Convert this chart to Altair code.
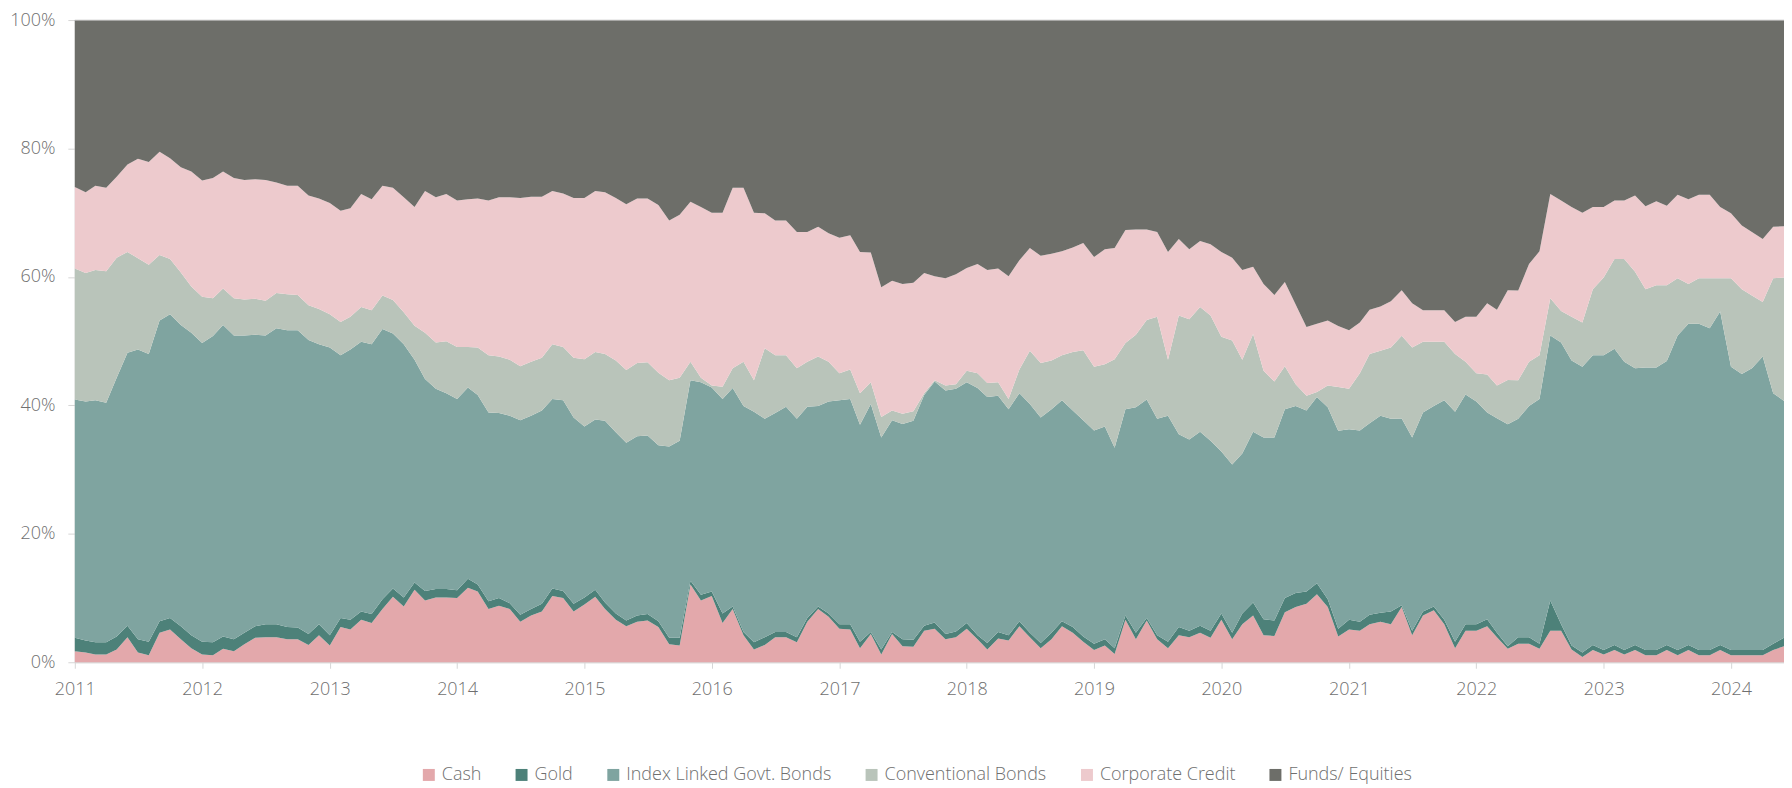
import altair as alt
import pandas as pd

months = pd.date_range("2011-01-01", "2024-06-01", freq="MS").strftime("%Y-%m-%dT00:00:00").tolist()
year_ticks = list(range(2011, 2025))

series_names = ["Cash", "Gold", "Index Linked Govt. Bonds", "Conventional Bonds",
                "Corporate Credit", "Funds/ Equities"]
series_colors = ["#E3A8AB", "#4D8179", "#7FA4A0", "#B9C4BA", "#EDCACD", "#6D6E69"]

cash = [1.7, 1.5, 1.2, 1.2, 2.0, 3.9, 1.5, 1.1, 4.6, 5.1,
        3.6, 2.2, 1.2, 1.1, 2.1, 1.7, 2.8, 3.8, 3.9, 3.9,
        3.6, 3.6, 2.7, 4.2, 2.6, 5.5, 5.1, 6.6, 6.1, 8.3,
        10.2, 8.7, 11.3, 9.6, 10.1, 10.1, 10.0, 11.6, 11.0, 8.3,
        8.8, 8.3, 6.3, 7.3, 7.9, 10.3, 10.0, 7.9, 9.0, 10.2,
        8.3, 6.6, 5.6, 6.3, 6.5, 5.5, 2.8, 2.6, 12.1, 9.6,
        10.3, 6.1, 8.3, 4.2, 2.0, 2.7, 3.9, 3.9, 3.1, 6.3,
        8.3, 7.1, 5.2, 5.1, 2.2, 4.4, 1.2, 4.4, 2.5, 2.4,
        4.9, 5.2, 3.6, 3.9, 5.2, 3.6, 2.0, 3.7, 3.4, 5.6,
        3.9, 2.2, 3.6, 5.6, 4.6, 3.2, 1.9, 2.6, 1.3, 6.6,
        3.6, 6.5, 3.6, 2.2, 4.2, 3.9, 4.6, 3.8, 6.6, 3.6,
        5.9, 7.3, 4.2, 4.1, 7.8, 8.6, 9.1, 10.6, 8.6, 4.0,
        5.1, 4.9, 5.9, 6.3, 5.9, 8.6, 4.2, 7.3, 8.1, 5.9,
        2.2, 4.9, 4.9, 5.6, 3.9, 2.1, 2.9, 2.9, 2.1, 4.9,
        4.9, 2.0, 0.8, 1.9, 1.2, 1.9, 1.2, 1.9, 1.1, 1.1,
        1.9, 1.1, 1.9, 1.1, 1.1, 1.9, 1.1, 1.1, 1.1, 1.1,
        1.9, 2.5]

gold = [2.1, 1.9, 1.9, 1.9, 2.0, 1.8, 2.1, 2.1, 1.8, 1.8,
        2.0, 2.0, 2.0, 2.0, 1.9, 1.9, 1.8, 1.8, 2.0, 2.0,
        1.9, 1.8, 1.7, 1.7, 1.6, 1.4, 1.5, 1.3, 1.4, 1.5,
        1.3, 1.4, 1.1, 1.5, 1.3, 1.3, 1.2, 1.4, 1.1, 1.2,
        1.2, 0.9, 1.1, 1.0, 1.2, 1.2, 1.1, 1.2, 1.1, 1.1,
        1.0, 1.0, 0.9, 1.0, 1.0, 0.9, 1.0, 1.2, 0.6, 0.9,
        0.7, 1.5, 0.4, 0.5, 1.1, 1.2, 0.8, 0.8, 0.8, 0.6,
        0.4, 0.5, 0.7, 0.8, 1.0, 0.3, 0.8, 0.3, 1.1, 1.1,
        0.8, 1.0, 0.8, 0.9, 0.9, 0.6, 1.0, 1.0, 0.8, 0.8,
        0.7, 0.8, 1.0, 0.8, 0.9, 0.8, 1.0, 1.0, 0.9, 0.7,
        1.0, 0.4, 0.6, 1.0, 1.3, 1.0, 1.1, 1.1, 1.0, 1.0,
        1.7, 2.0, 2.5, 2.4, 2.2, 2.2, 1.9, 1.7, 1.2, 1.2,
        1.5, 1.4, 1.5, 1.4, 2.0, 0.3, 0.7, 0.6, 0.6, 0.7,
        1.0, 1.0, 1.0, 1.1, 0.7, 0.4, 1.0, 1.0, 0.8, 4.7,
        1.0, 0.6, 0.7, 0.8, 0.7, 0.8, 0.7, 0.8, 0.8, 0.8,
        0.8, 0.8, 0.8, 0.8, 0.8, 0.8, 0.8, 0.8, 0.8, 0.8,
        1.0, 1.3]

index_linked = [37.1, 37.2, 37.7, 37.3, 40.3, 42.5, 45.1, 44.8, 46.8, 47.3,
                46.9, 47.1, 46.5, 47.7, 48.5, 47.3, 46.3, 45.4, 45.0, 46.1,
                46.2, 46.3, 45.8, 43.6, 44.8, 40.9, 42.1, 42.0, 42.0, 42.1,
                39.7, 39.4, 34.7, 33.0, 31.2, 30.5, 29.8, 29.8, 29.5, 29.4,
                28.8, 29.2, 30.3, 30.1, 30.1, 29.5, 29.7, 29.0, 26.6, 26.5,
                28.3, 28.2, 27.7, 27.9, 27.8, 27.4, 29.8, 30.7, 31.2, 33.1,
                31.8, 33.4, 34.0, 35.2, 35.9, 34.0, 34.1, 35.1, 34.0, 32.9,
                31.2, 33.0, 34.9, 35.1, 33.8, 35.5, 33.0, 33.0, 33.5, 34.1,
                35.9, 37.5, 37.9, 37.8, 37.5, 38.5, 38.3, 36.8, 35.2, 35.5,
                35.6, 35.1, 34.8, 34.4, 33.7, 33.7, 33.2, 33.1, 31.2, 32.1,
                35.1, 34.0, 33.7, 35.2, 30.0, 29.8, 30.2, 29.6, 25.2, 26.2,
                24.9, 26.6, 28.3, 28.5, 29.4, 29.1, 28.2, 29.0, 29.9, 30.8,
                29.7, 29.8, 29.8, 30.7, 30.0, 29.1, 30.1, 31.0, 31.2, 34.2,
                35.8, 35.8, 34.7, 32.2, 33.4, 34.6, 34.0, 36.0, 38.1, 41.3,
                43.9, 44.4, 44.5, 45.1, 45.9, 46.1, 44.9, 43.1, 44.0, 44.0,
                44.2, 49.0, 50.0, 50.8, 50.1, 51.9, 44.1, 43.0, 43.9, 45.7,
                39.0, 36.9]

conventional = [20.4, 20.0, 20.3, 20.5, 18.7, 15.7, 14.2, 13.9, 10.2, 8.6,
                8.2, 7.2, 7.2, 5.9, 5.7, 5.8, 5.6, 5.6, 5.4, 5.5,
                5.6, 5.5, 5.4, 5.5, 5.2, 5.2, 5.1, 5.4, 5.3, 5.2,
                5.2, 5.0, 5.3, 7.2, 7.2, 8.1, 8.1, 6.3, 7.4, 8.9,
                8.8, 8.7, 8.4, 8.4, 8.2, 8.5, 8.3, 9.3, 10.5, 10.5,
                10.4, 11.2, 11.3, 11.4, 11.4, 11.3, 10.3, 9.8, 2.9, 0.7,
                0.3, 1.9, 3.1, 6.9, 4.9, 11.0, 9.0, 8.0, 7.9, 7.0,
                7.7, 6.2, 4.2, 4.6, 4.9, 3.4, 3.2, 1.5, 1.6, 1.5,
                0.3, 0.2, 0.8, 0.7, 1.8, 2.3, 2.2, 2.1, 1.6, 3.7,
                8.3, 8.5, 7.6, 7.0, 9.1, 10.9, 9.9, 9.7, 13.8, 10.3,
                11.3, 12.4, 15.9, 8.7, 18.5, 18.7, 19.4, 19.5, 17.9, 19.3,
                14.6, 15.2, 10.4, 8.7, 6.7, 3.4, 2.3, 0.8, 3.4, 6.8,
                6.3, 8.9, 10.8, 10.1, 11.1, 12.9, 14.0, 11.0, 10.0, 9.1,
                9.0, 5.1, 4.4, 5.9, 5.1, 6.9, 6.0, 6.9, 6.8, 5.8,
                4.9, 6.8, 6.9, 10.3, 12.1, 14.0, 16.0, 15.0, 12.2, 12.8,
                11.8, 8.9, 6.2, 7.1, 7.8, 5.2, 13.8, 13.2, 11.3, 8.5,
                17.9, 19.2]

corporate = [12.7, 12.6, 13.1, 13.0, 12.6, 13.6, 15.5, 16.0, 16.1, 15.7,
             16.4, 17.9, 18.1, 18.7, 18.2, 18.7, 18.6, 18.6, 18.8, 17.2,
             16.9, 17.0, 17.1, 17.2, 17.3, 17.3, 16.9, 17.6, 17.3, 17.1,
             17.5, 17.9, 18.5, 22.1, 22.6, 22.9, 22.8, 23.0, 23.2, 24.1,
             24.8, 25.3, 26.2, 25.7, 25.1, 23.9, 23.9, 24.9, 25.1, 25.1,
             25.2, 25.3, 25.8, 25.6, 25.5, 26.1, 24.9, 25.4, 24.9, 26.6,
             26.9, 27.1, 28.1, 27.1, 26.1, 21.0, 21.0, 21.0, 21.2, 20.2,
             20.2, 20.0, 21.1, 20.9, 22.0, 20.2, 20.2, 20.2, 20.2, 20.0,
             18.7, 16.2, 16.7, 17.1, 16.0, 17.0, 17.6, 17.7, 19.1, 17.0,
             16.0, 16.7, 16.6, 16.2, 16.3, 16.7, 17.1, 17.9, 17.3, 17.6,
             16.4, 14.1, 13.2, 16.8, 11.9, 10.9, 10.3, 11.1, 13.2, 12.9,
             14.0, 10.5, 13.5, 13.5, 13.1, 12.4, 10.7, 10.6, 10.1, 9.5,
             9.1, 7.9, 6.9, 6.9, 7.2, 7.1, 6.9, 4.9, 4.9, 4.9,
             5.0, 7.0, 8.8, 11.1, 11.8, 14.0, 14.0, 15.2, 16.2, 16.2,
             17.2, 17.1, 17.1, 12.8, 11.0, 9.1, 9.1, 11.9, 12.9, 13.1,
             12.4, 13.0, 13.2, 13.0, 13.0, 11.1, 10.1, 9.9, 9.9, 9.8,
             8.0, 8.0]

funds_equities = [26.0, 26.8, 25.8, 26.1, 24.4, 22.5, 21.6, 22.1, 20.5, 21.5,
                  22.9, 23.6, 25.0, 24.6, 23.6, 24.6, 24.9, 24.8, 24.9, 25.3,
                  25.8, 25.8, 27.3, 27.8, 28.5, 29.7, 29.3, 27.1, 27.9, 25.8,
                  26.1, 27.6, 29.1, 26.6, 27.6, 27.1, 28.1, 27.9, 27.8, 28.1,
                  27.6, 27.6, 27.7, 27.5, 27.5, 26.6, 27.0, 27.7, 27.7, 26.6,
                  26.8, 27.7, 28.7, 27.8, 27.8, 28.8, 31.2, 30.3, 28.3, 29.1,
                  30.0, 30.0, 26.1, 26.1, 30.0, 30.1, 31.2, 31.2, 33.0, 33.0,
                  32.2, 33.2, 33.9, 33.5, 36.1, 36.2, 41.6, 40.6, 41.1, 40.9,
                  39.4, 39.9, 40.2, 39.6, 38.6, 38.0, 38.9, 38.7, 39.9, 37.4,
                  35.5, 36.7, 36.4, 36.0, 35.4, 34.7, 36.9, 35.7, 35.5, 32.7,
                  32.6, 32.6, 33.0, 36.1, 34.1, 35.7, 34.4, 34.9, 36.1, 37.0,
                  38.9, 38.4, 41.1, 42.8, 40.8, 44.3, 47.8, 47.3, 46.8, 47.6,
                  48.3, 47.1, 45.1, 44.6, 43.8, 42.1, 44.1, 45.2, 45.2, 45.2,
                  47.0, 46.2, 46.2, 44.1, 45.1, 42.1, 42.1, 38.0, 36.0, 27.1,
                  28.1, 29.1, 30.0, 29.1, 29.1, 28.1, 28.1, 27.3, 29.0, 28.2,
                  28.9, 27.2, 27.9, 27.2, 27.2, 29.1, 30.1, 32.0, 33.0, 34.1,
                  32.2, 32.1]

all_series = [cash, gold, index_linked, conventional, corporate, funds_equities]

rows = []
for k, (name, vals) in enumerate(zip(series_names, all_series)):
    for d, v in zip(months, vals):
        rows.append({"date": d, "series": name, "order": k, "share": v})
df = pd.DataFrame(rows)

font = "Open Sans"
text_color = "#6f6f6f"
line_color = "#d6d6d6"

area = alt.Chart(df).mark_area(interpolate="linear").encode(
    x=alt.X(
        "date:T",
        scale=alt.Scale(domain=[alt.DateTime(year=2011, month=1, date=1),
                                alt.DateTime(year=2024, month=6, date=1)]),
        axis=alt.Axis(
            title=None,
            format="%Y",
            values=[alt.DateTime(year=y, month=1, date=1) for y in year_ticks],
            grid=False,
            labelFlush=False,
            domainColor=line_color,
            tickColor=line_color,
            tickSize=6,
            labelPadding=12,
            labelFontSize=18,
            labelColor=text_color,
            labelFont=font,
            labelFontWeight=300,
        ),
    ),
    y=alt.Y(
        "share:Q",
        stack="normalize",
        axis=alt.Axis(
            title=None,
            format=".0%",
            values=[0, 0.2, 0.4, 0.6, 0.8, 1.0],
            grid=False,
            domainColor=line_color,
            tickColor=line_color,
            tickSize=7,
            labelPadding=13,
            labelFontSize=18,
            labelColor=text_color,
            labelFont=font,
            labelFontWeight=300,
        ),
    ),
    color=alt.Color(
        "series:N",
        scale=alt.Scale(domain=series_names, range=series_colors),
        sort=series_names,
        title=None,
        legend=alt.Legend(
            orient="none",
            legendX=346,
            legendY=748,
            direction="horizontal",
            columns=6,
            symbolType="square",
            symbolSize=144,
            symbolStrokeWidth=0,
            labelFontSize=18,
            labelColor=text_color,
            labelFont=font,
            labelFontWeight=300,
            labelLimit=500,
            labelOffset=4,
            columnPadding=31,
        ),
    ),
    order=alt.Order("order:Q", sort="ascending"),
)

top_df = pd.DataFrame({"share": [1.0]})
top_line = alt.Chart(top_df).mark_rule(color=line_color, strokeWidth=1).encode(
    y=alt.Y("share:Q")
)

chart = alt.layer(area, top_line).properties(
    width=1714,
    height=644,
    padding={"left": 67, "top": 11, "right": 0, "bottom": 125},
    autosize=alt.AutoSizeParams(type="none"),
).configure_view(strokeWidth=0).configure(font=font)

chart.save("out.html", embed_options={"renderer": "svg", "actions": False})
